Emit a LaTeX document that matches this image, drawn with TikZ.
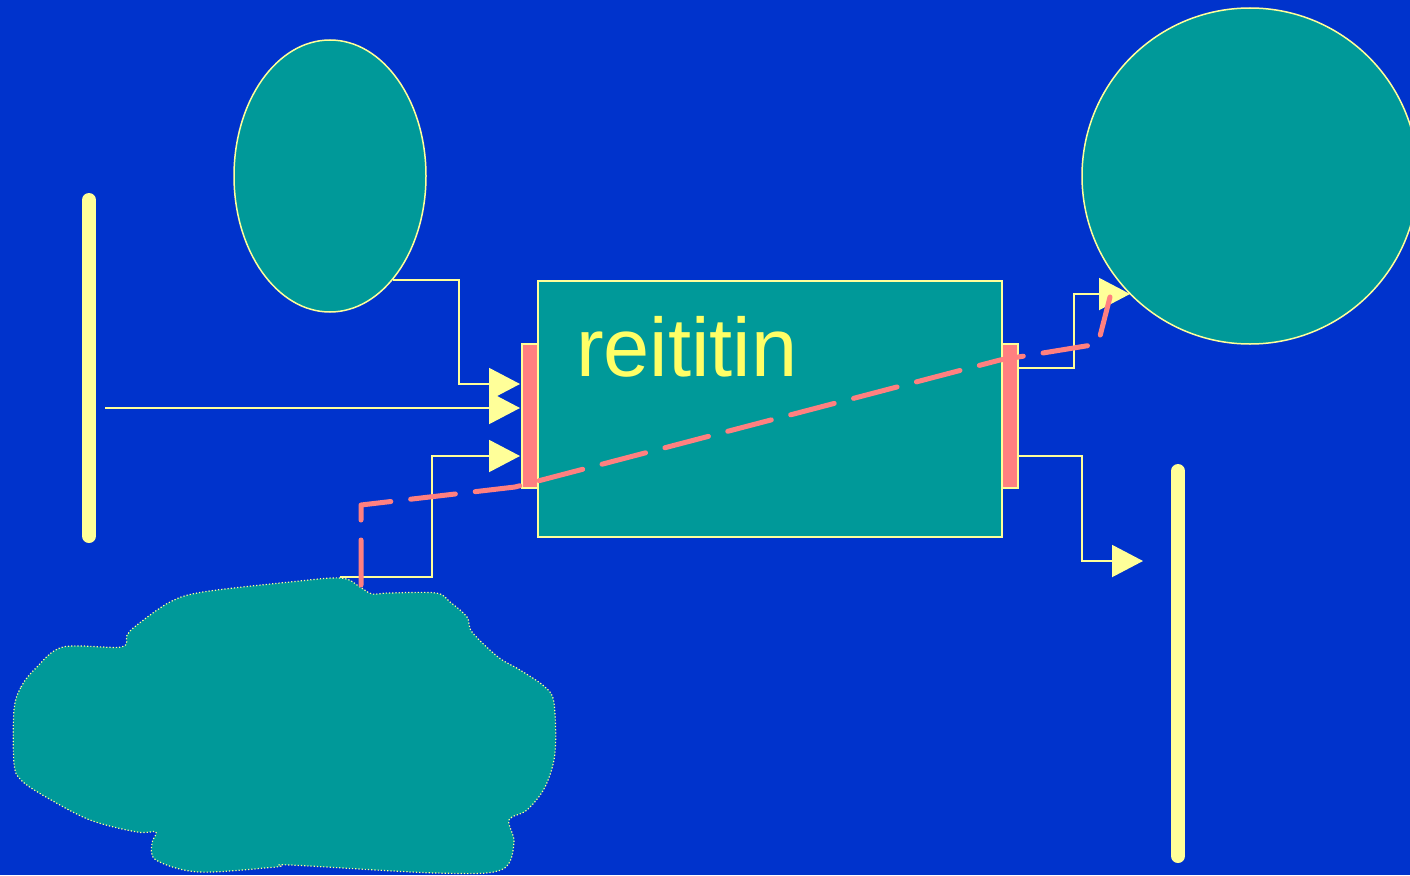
\documentclass[tikz,border=0pt]{standalone}
\usepackage{fontspec}
\setmainfont{Liberation Sans}
\usetikzlibrary{arrows.meta,shapes.geometric}
\definecolor{bg}{RGB}{0,51,204}
\definecolor{tealc}{RGB}{0,153,153}
\definecolor{yel}{RGB}{255,255,153}
\definecolor{txtyel}{RGB}{255,255,102}
\definecolor{salm}{RGB}{255,128,128}
\begin{document}
\begin{tikzpicture}[x=1pt,y=-1pt,
  wire/.style={draw=yel,line width=2pt},
  conn/.style={wire,-{Triangle[length=31pt,width=32pt]}},
  blob/.style={draw=yel,fill=tealc,line width=1.5pt,inner sep=0pt},
  port/.style={draw=yel,fill=salm,line width=2pt,inner sep=0pt,minimum width=16pt,minimum height=144pt},
  bar/.style={draw=yel,line width=14pt,line cap=round},
  flow/.style={draw=salm,line width=5pt,line cap=round,line join=round,dash pattern=on 45pt off 20pt}]
\fill[bg] (0,0) rectangle (1410,875);
\useasboundingbox (0,0) rectangle (1410,875);
\clip (0,0) rectangle (1410,875);
% bars
\draw[bar] (89,200) -- (89,536);
\draw[bar] (1178,471) -- (1178,856);
% ellipse and circle
\node[blob,ellipse,minimum width=192pt,minimum height=272pt] (ell) at (330,176) {};
\node[blob,circle,minimum size=336pt] (circ) at (1250,176) {};
% main box
\node[blob,rectangle,line width=2pt,minimum width=464pt,minimum height=256pt] (box) at (770,408.5) {};
\node[text=txtyel,font=\fontsize{83}{90}\selectfont,anchor=base west,inner sep=0pt] (lbl) at (576,376) {reititin};
% cloud
\path[draw=yel,fill=tealc,line width=1.2pt,dotted] plot[smooth cycle,tension=0.55] coordinates {
 (14,710) (21,687) (36,668) (63,647) (121,647) (127,635) (137,625) (170,602) (203,592)
 (290,582) (341,578) (360,587) (372,594) (389,593) (436,593) (450,602) (467,617) (472,632)
 (498,657) (520,670) (545,687) (554,703) (555,753) (545,787) (527,810) (509,820) (514,843)
 (501,870) (436,873) (290,865) (276,867) (199,872) (156,860) (152,843) (156,832) (137,832)
 (90,820) (46,797) (21,780) (14,763)};
\node[inner sep=0pt] (cloud) at (285,725) {};
% named end points
\coordinate (lb) at (105,408);
\coordinate (cl) at (340,577);
\coordinate (t1) at (520,384);
\coordinate (t2) at (520,408);
\coordinate (t3) at (520,456);
\coordinate (r1) at (1018,368);
\coordinate (r2) at (1018,456);
\coordinate (t4) at (1130,294);
\coordinate (t5) at (1143,561);
% connectors
\draw[conn] (ell.-59) -- ++(66,0) |- (t1);
\draw[conn] (lb) -- (t2);
\draw[conn] (cl) -- ++(92,0) |- (t3);
\draw[conn] (r1) -- ++(56,0) |- (t4);
\draw[conn] (r2) -- ++(64,0) |- (t5);
% ports
\node[port] (lport) at (530,416) {};
\node[port] (rport) at (1010,416) {};
% dashed flow
\coordinate (f0) at (361,585);
\coordinate (f1) at (361,505);
\coordinate (f2) at (515,487);
\coordinate (f3) at (1000,360);
\coordinate (f4) at (1098,344);
\coordinate (f5) at (1110,297);
\draw[flow] (f0) -- (f1) -- (f2) -- (f3) -- (f4) -- (f5);
\end{tikzpicture}
\end{document}
